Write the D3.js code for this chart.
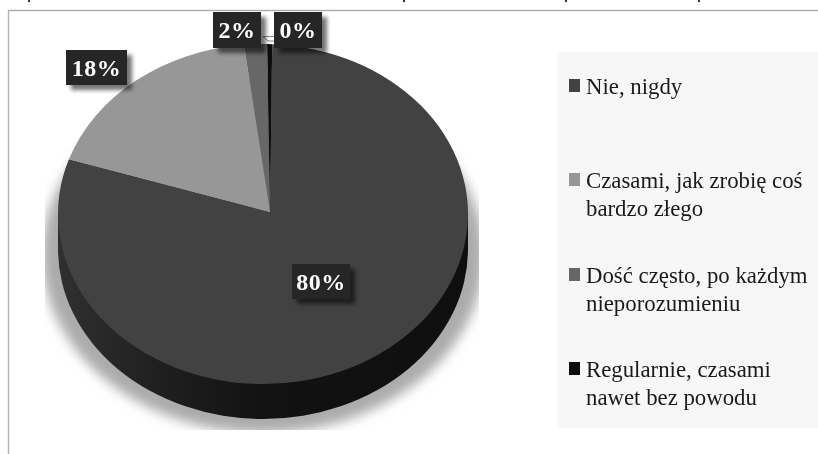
<!DOCTYPE html>
<html>
<head>
<meta charset="utf-8">
<script src="https://cdnjs.cloudflare.com/ajax/libs/d3/7.8.5/d3.min.js"></script>
<style>
html, body { margin: 0; padding: 0; background: #fff; }
svg { display: block; filter: blur(0.5px); font-family: "Liberation Serif", serif; }
</style>
</head>
<body>
<div id="chart"></div>
<script>
// data
var categories = ["Nie, nigdy", "Czasami, jak zrobię coś bardzo złego", "Dość często, po każdym nieporozumieniu", "Regularnie, czasami nawet bez powodu"];
var values = [79.5, 18.3, 1.8, 0.4];
var legendLines = [["Nie, nigdy"], ["Czasami, jak zrobię coś", "bardzo złego"], ["Dość często, po każdym", "nieporozumieniu"], ["Regularnie, czasami", "nawet bez powodu"]];
var colors = ["#424242", "#979797", "#676767", "#0d0d0d"];

var width = 818, height = 454;
var cx = 263, cy = 214, rx = 205, ry = 170, depth = 35;
var apexX = 270, apexY = 212;

var svg = d3.select("#chart")
    .append("svg")
    .attr("width", width)
    .attr("height", height);

var defs = svg.append("defs");

defs.append("filter").attr("id", "shadowBlur")
    .attr("x", "-20%").attr("y", "-20%").attr("width", "140%").attr("height", "140%")
    .append("feGaussianBlur").attr("stdDeviation", 6);

defs.append("filter").attr("id", "labelShadow")
    .attr("x", "-30%").attr("y", "-30%").attr("width", "170%").attr("height", "170%")
    .append("feGaussianBlur").attr("stdDeviation", 2.2);

defs.append("clipPath").attr("id", "shadowClip")
    .append("rect").attr("x", 45).attr("y", 30).attr("width", 434).attr("height", 400);

var side = defs.append("linearGradient").attr("id", "sideGrad");
side.append("stop").attr("offset", "0%").attr("stop-color", "#303030");
side.append("stop").attr("offset", "25%").attr("stop-color", "#1f1f1f");
side.append("stop").attr("offset", "50%").attr("stop-color", "#121212");
side.append("stop").attr("offset", "100%").attr("stop-color", "#0f0f0f");

// frame of the chart
svg.append("path")
    .attr("d", d3.line()([[8.5, height], [8.5, 10.5], [width, 10.5]]))
    .attr("fill", "none")
    .attr("stroke", "#b0b0b0")
    .attr("stroke-width", 1.4);

// cut off bits of the line above the frame
svg.append("g")
    .selectAll("rect")
    .data([28, 403, 565, 698])
    .enter()
    .append("rect")
    .attr("x", function (d) { return d; })
    .attr("y", 0)
    .attr("width", 2)
    .attr("height", 2)
    .attr("fill", "#333");

// shadow under the pie
svg.append("g")
    .attr("clip-path", "url(#shadowClip)")
    .append("ellipse")
    .attr("cx", cx)
    .attr("cy", cy + depth + 6)
    .attr("rx", rx + 16)
    .attr("ry", ry + 8)
    .attr("fill", "#ababab")
    .attr("filter", "url(#shadowBlur)");

// side wall of the pie
svg.append("path")
    .attr("d", "M" + (cx - rx) + "," + cy
        + "V" + (cy + depth)
        + "A" + rx + "," + ry + " 0 0 0 " + (cx + rx) + "," + (cy + depth)
        + "V" + cy + "Z")
    .attr("fill", "url(#sideGrad)");

// slices, angles from d3.pie, projected on the tilted rim
var start = 0.045;
var pie = d3.pie().sort(null).startAngle(start).endAngle(start + 2 * Math.PI);
var arcs = pie(values);

function rim(a) {
    return [cx + rx * Math.sin(a), cy - ry * Math.cos(a)];
}
function slicePath(d) {
    var s = rim(d.startAngle), e = rim(d.endAngle);
    var large = d.endAngle - d.startAngle > Math.PI ? 1 : 0;
    return "M" + apexX + "," + apexY + "L" + s
        + "A" + rx + "," + ry + " 0 " + large + " 1 " + e + "Z";
}

svg.append("g")
    .selectAll("path")
    .data(arcs)
    .enter()
    .append("path")
    .attr("d", slicePath)
    .attr("fill", function (d, i) { return colors[i]; });

// small leader line of the 0% label
svg.append("path")
    .attr("d", d3.line()([[274, 36.5], [263, 36.5], [268, 41], [274, 41]]))
    .attr("fill", "#fff")
    .attr("stroke", "#8a8a8a")
    .attr("stroke-width", 1);

// data labels
var pct = d3.format(".0f");
var labelBoxes = [
    {x: 292, y: 264, w: 58, h: 35},
    {x: 66, y: 50, w: 61, h: 35},
    {x: 213, y: 12, w: 48, h: 36},
    {x: 274, y: 12, w: 48, h: 36}
];
var labels = svg.append("g")
    .selectAll("g")
    .data(values)
    .enter()
    .append("g")
    .attr("transform", function (d, i) { return "translate(" + labelBoxes[i].x + "," + labelBoxes[i].y + ")"; });

labels.append("rect")
    .attr("x", 5).attr("y", 5)
    .attr("width", function (d, i) { return labelBoxes[i].w; })
    .attr("height", function (d, i) { return labelBoxes[i].h; })
    .attr("fill", "#000")
    .attr("opacity", 0.55)
    .attr("filter", "url(#labelShadow)");

labels.append("rect")
    .attr("width", function (d, i) { return labelBoxes[i].w; })
    .attr("height", function (d, i) { return labelBoxes[i].h; })
    .attr("fill", "#262626");

labels.append("text")
    .attr("x", function (d, i) { return labelBoxes[i].w / 2; })
    .attr("y", function (d, i) { return labelBoxes[i].h / 2 + 8; })
    .attr("text-anchor", "middle")
    .attr("fill", "#fff")
    .attr("font-size", 24)
    .attr("font-weight", "bold")
    .attr("letter-spacing", 0.5)
    .text(function (d) { return pct(d) + "%"; });

// legend
svg.append("rect")
    .attr("x", 557).attr("y", 52)
    .attr("width", width - 557).attr("height", 376)
    .attr("fill", "#f7f7f7");

var legendY = [94, 188, 283, 377];
var legend = svg.append("g")
    .selectAll("g")
    .data(categories)
    .enter()
    .append("g")
    .attr("transform", function (d, i) { return "translate(569," + legendY[i] + ")"; });

legend.append("rect")
    .attr("x", 0).attr("y", -15)
    .attr("width", 11).attr("height", 13)
    .attr("fill", function (d, i) { return colors[i]; });

legend.each(function (d, i) {
    var t = d3.select(this).append("text")
        .attr("fill", "#1a1a1a")
        .attr("font-size", 22.8);
    t.selectAll("tspan")
        .data(legendLines[i])
        .enter()
        .append("tspan")
        .attr("x", 17)
        .attr("y", function (l, j) { return j * 28; })
        .text(function (l) { return l; });
});
</script>
</body>
</html>
